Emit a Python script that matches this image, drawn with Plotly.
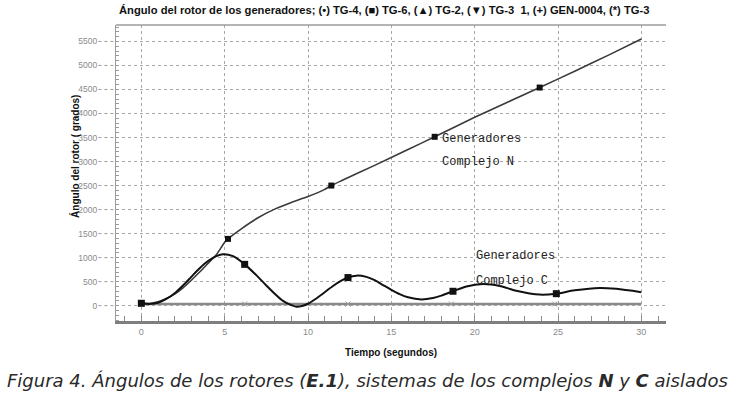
import plotly.graph_objects as go

# ---- data ----
t_n = [0, 0.5, 1, 1.5, 2, 2.5, 3, 3.5, 4, 4.5, 5, 5.2, 6, 7, 8, 9, 10, 11, 11.4, 12, 14, 16, 17.6, 20, 22, 23.9, 26, 28, 30]
ang_n = [50, 45, 80, 150, 240, 370, 530, 700, 880, 1060, 1320, 1390, 1600, 1830, 2010, 2150, 2270, 2420, 2500, 2600, 2920, 3250, 3515, 3920, 4240, 4540, 4880, 5210, 5550]

t_c = [0, 0.5, 1, 1.5, 2, 2.5, 3, 3.5, 4, 4.5, 4.9, 5.5, 6.2, 7, 7.5, 8, 8.5, 9, 9.3, 9.7, 10, 10.5, 11, 11.5, 12, 12.4, 12.9, 13.5, 14, 14.5, 15, 15.5, 16, 16.8, 17.5, 18, 18.7, 19.5, 20.5, 21.5, 22.5, 23.9, 24.9, 26, 27.5, 28.5, 30]
ang_c = [50, 35, 60, 140, 260, 420, 600, 780, 930, 1030, 1070, 1030, 860, 600, 420, 250, 100, 10, -20, 0, 40, 150, 280, 410, 520, 585, 625, 600, 530, 430, 330, 240, 175, 130, 160, 210, 300, 400, 450, 410, 310, 230, 250, 320, 370, 350, 280]

t_zero = [0, 30]
ang_zero = [35, 35]

mk_t_n = [0, 5.2, 11.4, 17.6, 23.9]
mk_a_n = [50, 1390, 2500, 3515, 4540]
mk_t_c = [0, 6.2, 12.4, 18.7, 24.9]
mk_a_c = [50, 860, 585, 300, 250]
mk_t_z = [6.2, 12.4, 18.6, 24.8]
mk_a_z = [35, 35, 35, 35]

x_ticks = [0, 5, 10, 15, 20, 25, 30]
y_ticks = [0, 500, 1000, 1500, 2000, 2500, 3000, 3500, 4000, 4500, 5000, 5500]

title_txt = "Ángulo del rotor de los generadores; (\u2022) TG-4, (\u25a0) TG-6, (\u25b2) TG-2, (\u25bc) TG-3  1, (+) GEN-0004, (*) TG-3"
caption_txt = "Figura 4. Ángulos de los rotores (<b>E.1</b>), sistemas de los complejos <b>N</b> y <b>C</b> aislados"

fig = go.Figure()
fig.add_trace(go.Scatter(x=t_zero, y=ang_zero, mode="lines", line=dict(color="#8a8a8a", width=2.5), hoverinfo="skip"))
fig.add_trace(go.Scatter(x=mk_t_z, y=mk_a_z, mode="markers", marker=dict(symbol="x-thin", size=5, line=dict(color="#999", width=1)), hoverinfo="skip"))
fig.add_trace(go.Scatter(x=t_n, y=ang_n, mode="lines", line=dict(color="#3a3a3a", width=1.6, shape="spline", smoothing=0.6)))
fig.add_trace(go.Scatter(x=t_c, y=ang_c, mode="lines", line=dict(color="#111", width=2, shape="spline", smoothing=0.8)))
fig.add_trace(go.Scatter(x=mk_t_n, y=mk_a_n, mode="markers", marker=dict(symbol="square", size=6, color="#111")))
fig.add_trace(go.Scatter(x=mk_t_c, y=mk_a_c, mode="markers", marker=dict(symbol="square", size=7, color="#111")))

# dotted tick extensions on the left of the y axis
for v in y_ticks:
    fig.add_shape(type="line", xref="paper", yref="y", x0=-0.032, x1=0, y0=v, y1=v,
                  line=dict(color="#9a9a9a", width=1, dash="dot"))
# top frame line
fig.add_shape(type="line", xref="paper", yref="paper", x0=0, x1=1, y0=1, y1=1,
              line=dict(color="#9a9a9a", width=1.5))

mono = dict(family="Liberation Mono, Courier New, monospace", size=12, color="#222")
fig.add_annotation(text="Generadores", x=17.9, y=3470, xanchor="left", yanchor="middle", showarrow=False, font=mono)
fig.add_annotation(text="Complejo N", x=17.9, y=3000, xanchor="left", yanchor="middle", showarrow=False, font=mono)
fig.add_annotation(text="Generadores", x=19.95, y=1030, xanchor="left", yanchor="middle", showarrow=False, font=mono)
fig.add_annotation(text="Complejo C", x=19.95, y=510, xanchor="left", yanchor="middle", showarrow=False, font=mono)

fig.add_annotation(text="<b>Ángulo del rotor ( grados)</b>", textangle=-90, xref="paper", yref="paper",
                   x=-0.075, y=0.557, xanchor="center", yanchor="middle", showarrow=False,
                   font=dict(family="Liberation Sans, Arial, sans-serif", size=10, color="#111"))
fig.add_annotation(text="<b>Tiempo (segundos)</b>", xref="paper", yref="paper",
                   x=0.5, y=-0.108, xanchor="center", yanchor="middle", showarrow=False,
                   font=dict(family="Liberation Sans, Arial, sans-serif", size=10, color="#111"))
fig.add_annotation(text="<b>" + title_txt + "</b>", xref="paper", yref="paper",
                   x=0.488, y=1.0, yshift=15, xanchor="center", yanchor="middle", showarrow=False,
                   font=dict(family="Liberation Sans, Arial, sans-serif", size=11.2, color="#111"))
fig.add_annotation(text=caption_txt, xref="paper", yref="paper",
                   x=0.457, y=-0.18, yshift=-6, xanchor="center", yanchor="middle", showarrow=False,
                   font=dict(family="DejaVu Sans, sans-serif", size=18, color="#2a2a2a", style="italic"))

fig.update_layout(
    width=734, height=399,
    margin=dict(l=116, r=68, t=25, b=78, autoexpand=False),
    paper_bgcolor="white", plot_bgcolor="white",
    showlegend=False,
    xaxis=dict(range=[-1.52, 31.48], tickvals=x_ticks, ticktext=[str(v) for v in x_ticks],
               automargin=False,
               showgrid=True, gridcolor="#a8a8a8", griddash="dot", gridwidth=1,
               zeroline=False, showline=True, linecolor="#7f7f7f", linewidth=3,
               ticks="inside", ticklen=5, tickcolor="#8a8a8a",
               minor=dict(dtick=1, ticks="inside", ticklen=5, tickcolor="#8a8a8a", showgrid=False),
               tickfont=dict(family="Liberation Sans, Arial, sans-serif", size=9, color="#8a8a8a")),
    yaxis=dict(range=[-319, 5842], tickvals=y_ticks, ticktext=[str(v) for v in y_ticks],
               automargin=False,
               showgrid=True, gridcolor="#a8a8a8", griddash="dot", gridwidth=1,
               zeroline=False, showline=True, linecolor="#9a9a9a", linewidth=1.2,
               ticks="", ticklabelstandoff=16,
               minor=dict(dtick=100, ticks="inside", ticklen=3, tickcolor="#9a9a9a", showgrid=False),
               tickfont=dict(family="Liberation Sans, Arial, sans-serif", size=8.5, color="#8a8a8a")),
)

fig.write_html("out.html", config={"displayModeBar": False},
               post_script="document.body.style.margin='0';")
